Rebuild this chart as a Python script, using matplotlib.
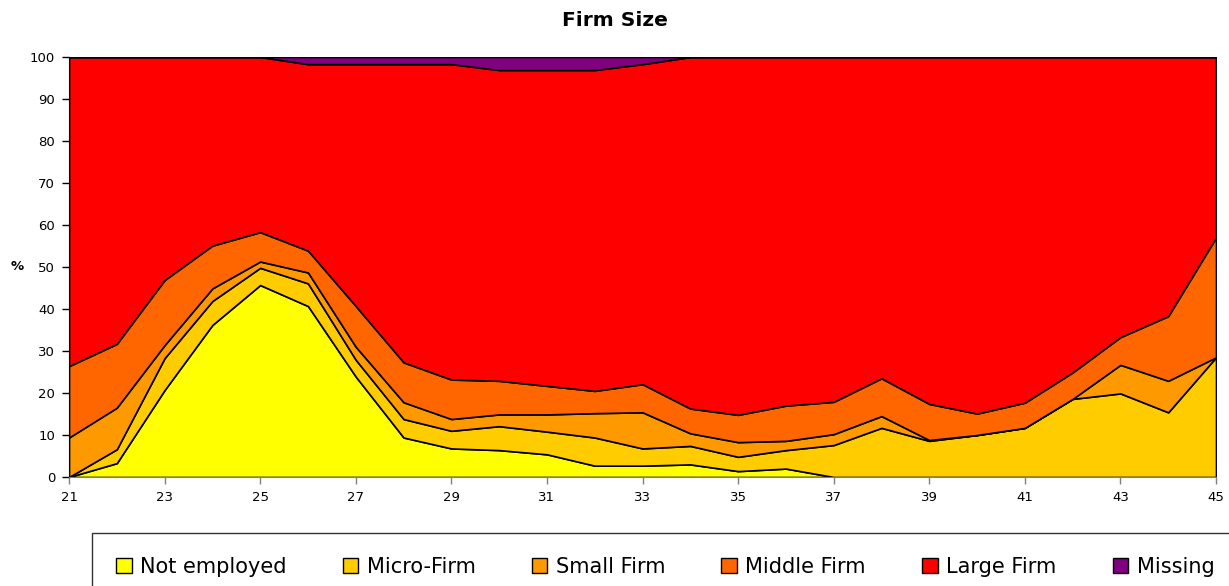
import matplotlib
matplotlib.use("Agg")
import matplotlib.pyplot as plt
from matplotlib.patches import Patch
import numpy as np

# Age of respondents
ages = list(range(21, 46))

# Share of each firm-size category by age (%)
not_employed = [0.0, 3.3, 20.7, 36.2, 45.7, 40.7, 23.9, 9.4, 6.8, 6.4, 5.4, 2.7, 2.7,
                3.0, 1.4, 2.0, 0.0, 0.0, 0.0, 0.0, 0.0, 0.0, 0.0, 0.0, 0.0]
micro_firm = [0.0, 3.3, 7.6, 5.7, 4.1, 5.4, 4.0, 4.4, 4.2, 5.7, 5.4, 6.7, 4.1,
              4.4, 3.4, 4.4, 7.6, 11.7, 8.6, 10.0, 11.7, 18.6, 19.9, 15.4, 28.5]
small_firm = [9.4, 9.9, 3.1, 3.0, 1.5, 2.6, 3.1, 4.0, 2.8, 2.8, 4.1, 5.8, 8.6,
              3.0, 3.5, 2.2, 2.6, 2.8, 0.2, 0.0, 0.0, 0.0, 6.8, 7.5, 0.0]
middle_firm = [17.0, 15.2, 15.5, 10.2, 7.0, 5.2, 9.7, 9.5, 9.4, 8.0, 6.8, 5.3, 6.7,
               5.9, 6.5, 8.4, 7.7, 9.0, 8.6, 5.1, 6.0, 6.3, 6.6, 15.4, 28.5]
missing = [0.0, 0.0, 0.0, 0.0, 0.0, 1.7, 1.7, 1.7, 1.7, 3.1, 3.1, 3.1, 1.7,
           0.0, 0.0, 0.0, 0.0, 0.0, 0.0, 0.0, 0.0, 0.0, 0.0, 0.0, 0.0]
# Large firms make up the remainder of each column
large_firm = [round(100 - a - b - c - d - e, 1) for a, b, c, d, e in
              zip(not_employed, micro_firm, small_firm, middle_firm, missing)]

labels = ["Not employed", "Micro-Firm", "Small Firm", "Middle Firm", "Large Firm", "Missing"]
colors = ["#FFFF00", "#FFCC00", "#FF9900", "#FF6600", "#FF0000", "#800080"]

x_ticks = list(range(21, 46, 2))
y_ticks = list(range(0, 101, 10))

plt.rcParams["font.family"] = ["DejaVu Sans"]

W, H = 1229, 586
fig = plt.figure(figsize=(W / 100, H / 100), dpi=100)
ax = fig.add_axes([69 / W, 1 - 477 / H, (1216 - 69) / W, (477 - 57) / H])

ax.stackplot(ages, not_employed, micro_firm, small_firm, middle_firm, large_firm, missing,
             colors=colors, edgecolor="black", linewidth=1.2)

ax.set_xlim(21, 45)
ax.set_ylim(0, 100)
ax.set_xticks(x_ticks)
ax.set_yticks(y_ticks)
ax.tick_params(axis="both", labelsize=9.5, length=5, width=1, color="#808080", pad=5)
ax.tick_params(axis="y", color="black")
for side in ("top", "right"):
    ax.spines[side].set_visible(False)
ax.spines["left"].set_color("black")
ax.spines["bottom"].set_color("#808080")

fig.text(0.5, 1 - 21 / H, "Firm Size", ha="center", va="center",
         fontsize=14.5, fontweight="bold")
fig.text(17 / W, 1 - 267 / H, "%", ha="center", va="center",
         fontsize=9.5, fontweight="bold")

handles = [Patch(facecolor=c, edgecolor="black", linewidth=1.0) for c in colors]
leg = fig.legend(handles, labels, ncol=6, loc="upper left",
                 bbox_to_anchor=(92 / W, 1 - 533 / H), borderaxespad=0,
                 fontsize=15, frameon=True, fancybox=False, shadow=False,
                 handlelength=0.75, handleheight=0.75, handletextpad=0.4,
                 columnspacing=2.7, borderpad=1.15)
leg.get_frame().set_edgecolor("black")
leg.get_frame().set_linewidth(1.0)

fig.savefig("out.png", dpi=100)
